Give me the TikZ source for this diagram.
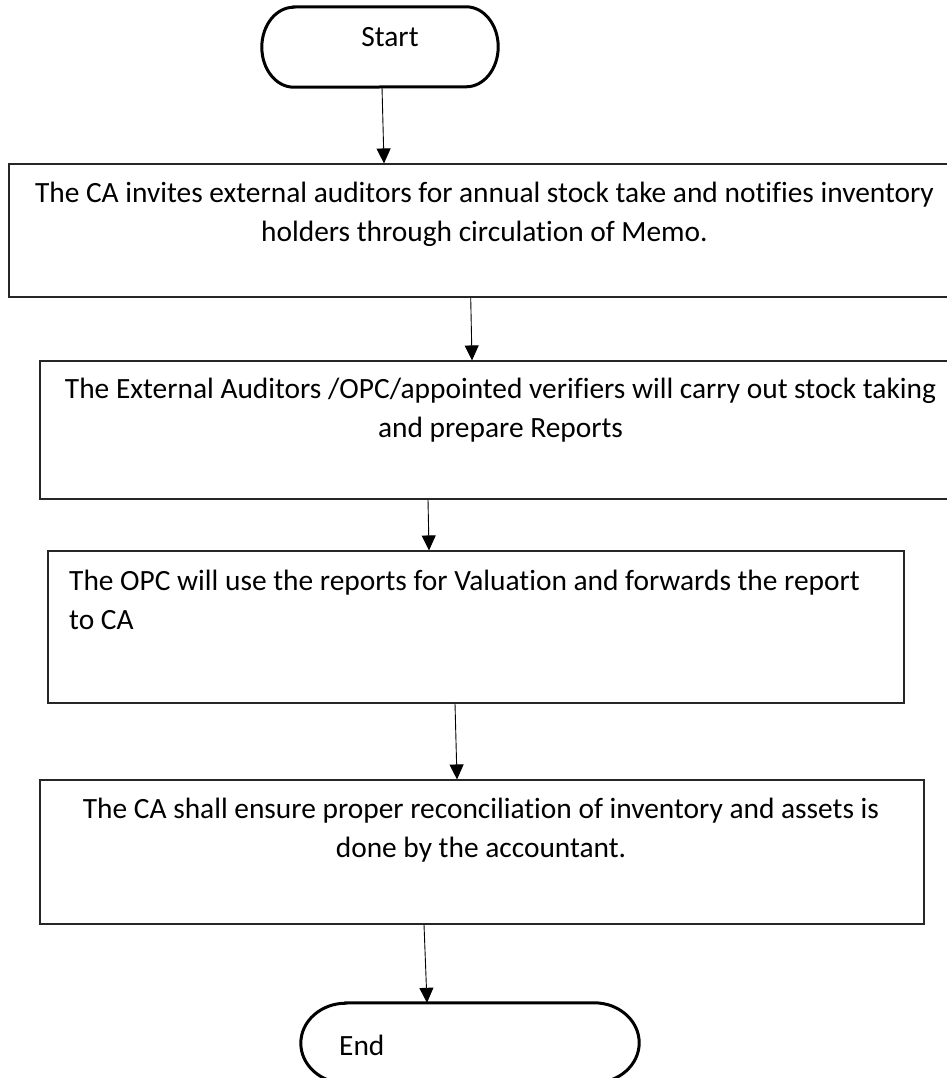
\documentclass[tikz,border=0pt]{standalone}
\usepackage{fontspec}
\setmainfont[Ligatures=NoCommon]{Carlito}
\usetikzlibrary{arrows.meta}
\begin{document}
\begin{tikzpicture}[x=1pt,y=-1pt,
  procbox/.style={draw=black!85, line width=1.1pt, inner sep=0pt},
  txt/.style={inner sep=0pt, font=\fontsize{29.4}{39}\selectfont, anchor=north},
  termnode/.style={inner sep=0pt},
  termline/.style={draw=black, line width=3pt},
  arr/.style={line width=0.9pt, -{Triangle[length=15pt,width=14pt]}}]
\useasboundingbox (0,0) rectangle (946,1078);
\fill[white] (0,0) rectangle (946,1078);

% Start terminal
\node[termnode, minimum width=236pt, minimum height=80pt] (start) at (380,47) {};
\draw[termline] ([xshift=32pt]start.north west) -- ([xshift=-32pt]start.north east)
  arc[start angle=90, end angle=-90, x radius=32pt, y radius=40pt]
  -- ([xshift=32pt]start.south west)
  arc[start angle=270, end angle=90, x radius=32pt, y radius=40pt] -- cycle;
\node[txt, anchor=base] (starttxt) at (390,47) {Start};

% Box 1
\node[procbox, minimum width=951pt, minimum height=133pt] (b1) at (484.5,230.5) {};
\node[txt, align=center] (t1) at (484.5,174.7) {\strut The CA invites external auditors for annual stock take and notifies inventory\\ holders through circulation of Memo.};

% Box 2
\node[procbox, minimum width=921pt, minimum height=138pt] (b2) at (500.5,430) {};
\node[txt, align=center] (t2) at (500.5,370.7) {\strut The External Auditors /OPC/appointed verifiers will carry out stock taking\\ and prepare Reports};

% Box 3
\node[procbox, minimum width=856pt, minimum height=152pt] (b3) at (476,627) {};
\node[txt, align=left, anchor=north west] (t3) at (69,562.7) {\strut The OPC will use the reports for Valuation and forwards the report\\ to CA};

% Box 4
\node[procbox, minimum width=884pt, minimum height=144pt] (b4) at (482,852) {};
\node[txt, align=center] (t4) at (481,790.7) {\strut The CA shall ensure proper reconciliation of inventory and assets is\\ done by the accountant.};

% End terminal
\node[termnode, minimum width=338pt, minimum height=80pt] (end) at (470,1043) {};
\draw[termline] ([xshift=45pt]end.north west) -- ([xshift=-45pt]end.north east)
  arc[start angle=90, end angle=-90, x radius=45pt, y radius=40pt]
  -- ([xshift=45pt]end.south west)
  arc[start angle=270, end angle=90, x radius=45pt, y radius=40pt] -- cycle;
\node[txt, anchor=base west] (endtxt) at (339,1055) {End};

% Connectors
\draw[arr] ([xshift=2pt]start.south) -- ([xshift=-100.5pt]b1.north);
\draw[arr] ([xshift=-13.8pt]b1.south) -- ([xshift=-28.5pt]b2.north);
\draw[arr] ([xshift=-72.5pt]b2.south) -- ([xshift=-47pt]b3.north);
\draw[arr] ([xshift=-21pt]b3.south) -- ([xshift=-25pt]b4.north);
\draw[arr] ([xshift=-58pt]b4.south) -- ([xshift=-43pt]end.north);
\end{tikzpicture}
\end{document}
